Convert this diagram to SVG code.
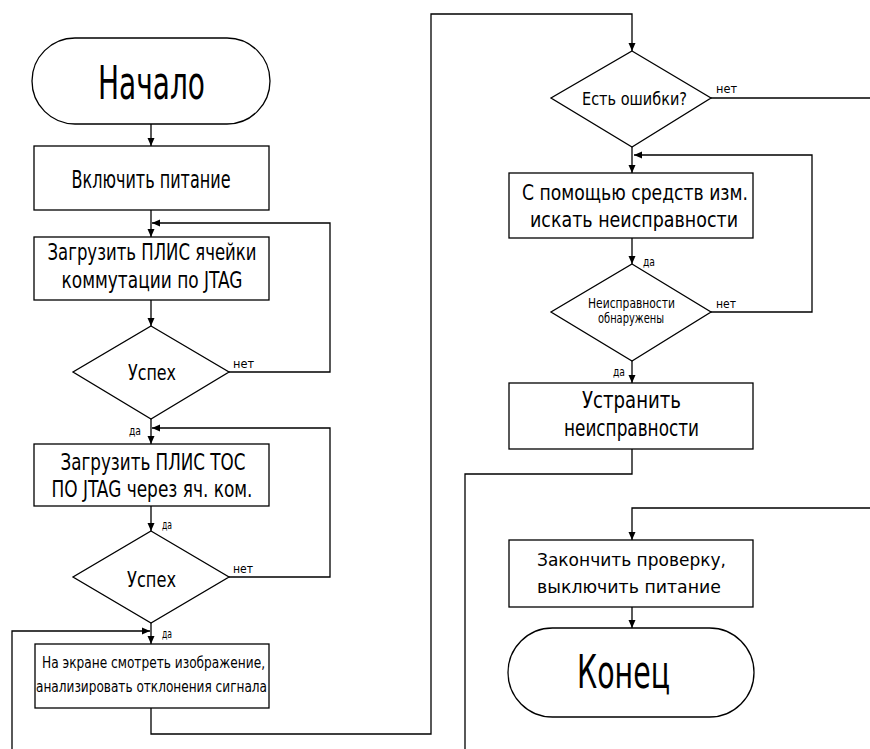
<svg xmlns="http://www.w3.org/2000/svg" width="870" height="749" viewBox="0 0 870 749">
<defs>
<marker id="ah" markerWidth="8" markerHeight="8" refX="8" refY="4" orient="auto" markerUnits="userSpaceOnUse">
<path d="M0,0.5 L8,4 L0,7.5 Z" fill="#000"/>
</marker>
<style>
.s{fill:#fff;stroke:#000;stroke-width:1.3}
.c{fill:none;stroke:#000;stroke-width:1.3}
text{font-family:"Liberation Sans Narrow","DejaVu Sans Condensed","Liberation Sans",sans-serif;fill:#000;text-anchor:middle}
.l{font-size:12px;text-anchor:start}
</style>
</defs>
<rect width="870" height="749" fill="#fff"/>
<g id="connectors">
<path class="c" d="M151,124 V146" marker-end="url(#ah)"/>
<path class="c" d="M151,210 V237" marker-end="url(#ah)"/>
<path class="c" d="M151,300 V326" marker-end="url(#ah)"/>
<path class="c" d="M229,372 H330 V223 H152" marker-end="url(#ah)"/>
<path class="c" d="M151,419 V444" marker-end="url(#ah)"/>
<path class="c" d="M229,577 H330 V428 H152" marker-end="url(#ah)"/>
<path class="c" d="M151,506 V531" marker-end="url(#ah)"/>
<path class="c" d="M151,623 V644" marker-end="url(#ah)"/>
<path class="c" d="M12,749 V631 H150" marker-end="url(#ah)"/>
<path class="c" d="M151,708 V734 H431 V14 H632 V51" marker-end="url(#ah)"/>
<path class="c" d="M711,98 H870"/>
<path class="c" d="M632,147 V173" marker-end="url(#ah)"/>
<path class="c" d="M711,312 H812 V155 H634" marker-end="url(#ah)"/>
<path class="c" d="M632,238 V264" marker-end="url(#ah)"/>
<path class="c" d="M632,361 V383" marker-end="url(#ah)"/>
<path class="c" d="M632,449 V474 H465 V749"/>
<path class="c" d="M870,508 H632 V540" marker-end="url(#ah)"/>
<path class="c" d="M632,607 V628" marker-end="url(#ah)"/>
<text class="l" x="233" y="368" textLength="21" lengthAdjust="spacingAndGlyphs">нет</text>
<text class="l" x="129" y="435" textLength="12" lengthAdjust="spacingAndGlyphs">да</text>
<text class="l" x="162" y="529" textLength="10" lengthAdjust="spacingAndGlyphs">да</text>
<text class="l" x="233" y="573" textLength="20" lengthAdjust="spacingAndGlyphs">нет</text>
<text class="l" x="162" y="638" textLength="10" lengthAdjust="spacingAndGlyphs">да</text>
<text class="l" x="716" y="93" textLength="21" lengthAdjust="spacingAndGlyphs">нет</text>
<text class="l" x="643" y="266" textLength="12" lengthAdjust="spacingAndGlyphs">да</text>
<text class="l" x="716" y="308" textLength="20" lengthAdjust="spacingAndGlyphs">нет</text>
<text class="l" x="613" y="376" textLength="12" lengthAdjust="spacingAndGlyphs">да</text>
</g>
<g id="start">
<rect class="s" x="32" y="38" width="238" height="86" rx="43"/>
<text x="151.5" y="99" font-size="47" textLength="107" lengthAdjust="spacingAndGlyphs">Начало</text>
</g>
<g id="power-on">
<rect class="s" x="34" y="146" width="235" height="64"/>
<text x="151" y="188" font-size="24" textLength="159" lengthAdjust="spacingAndGlyphs">Включить питание</text>
</g>
<g id="load-switch">
<rect class="s" x="34" y="237" width="235" height="63"/>
<text x="152" y="260" font-size="23" textLength="209" lengthAdjust="spacingAndGlyphs">Загрузить ПЛИС ячейки</text>
<text x="152" y="288" font-size="23" textLength="181" lengthAdjust="spacingAndGlyphs">коммутации по JTAG</text>
</g>
<g id="success1">
<polygon class="s" points="151,326 229,372 151,419 73,372"/>
<text x="152" y="380" font-size="22" textLength="48" lengthAdjust="spacingAndGlyphs">Успех</text>
</g>
<g id="load-toc">
<rect class="s" x="34" y="444" width="235" height="62"/>
<text x="153" y="470" font-size="23" textLength="185" lengthAdjust="spacingAndGlyphs">Загрузить ПЛИС ТОС</text>
<text x="152" y="497" font-size="23" textLength="201" lengthAdjust="spacingAndGlyphs">ПО JTAG через яч. ком.</text>
</g>
<g id="success2">
<polygon class="s" points="151,531 229,577 151,623 73,577"/>
<text x="151.5" y="587" font-size="22" textLength="49" lengthAdjust="spacingAndGlyphs">Успех</text>
</g>
<g id="screen">
<rect class="s" x="35" y="644" width="234" height="64"/>
<text x="153.5" y="668" font-size="16" textLength="223" lengthAdjust="spacingAndGlyphs">На экране смотреть изображение,</text>
<text x="151.5" y="692" font-size="16" textLength="231" lengthAdjust="spacingAndGlyphs">анализировать отклонения сигнала</text>
</g>
<g id="errors">
<polygon class="s" points="632,51 711,98 632,147 551,98"/>
<text x="634.5" y="105" font-size="18" textLength="105" lengthAdjust="spacingAndGlyphs">Есть ошибки?</text>
</g>
<g id="search">
<rect class="s" x="509" y="173" width="244" height="65"/>
<text x="635" y="200" font-size="21" textLength="226" lengthAdjust="spacingAndGlyphs">С помощью средств изм.</text>
<text x="634" y="227" font-size="21" textLength="208" lengthAdjust="spacingAndGlyphs">искать неисправности</text>
</g>
<g id="found">
<polygon class="s" points="632,264 711,312 632,361 551,312"/>
<text x="631.5" y="308" font-size="14" textLength="87" lengthAdjust="spacingAndGlyphs">Неисправности</text>
<text x="631" y="323" font-size="14" textLength="66" lengthAdjust="spacingAndGlyphs">обнаружены</text>
</g>
<g id="fix">
<rect class="s" x="509" y="383" width="244" height="66"/>
<text x="631.5" y="408" font-size="23" textLength="99" lengthAdjust="spacingAndGlyphs">Устранить</text>
<text x="631.5" y="436" font-size="23" textLength="135" lengthAdjust="spacingAndGlyphs">неисправности</text>
</g>
<g id="finish">
<rect class="s" x="509" y="540" width="244" height="67"/>
<text x="631.5" y="566" font-size="18" textLength="189" lengthAdjust="spacingAndGlyphs">Закончить проверку,</text>
<text x="629" y="593" font-size="18" textLength="184" lengthAdjust="spacingAndGlyphs">выключить питание</text>
</g>
<g id="end">
<rect class="s" x="508" y="628" width="246" height="89" rx="44.5"/>
<text x="623.5" y="688" font-size="46" textLength="93" lengthAdjust="spacingAndGlyphs">Конец</text>
</g>
</svg>
